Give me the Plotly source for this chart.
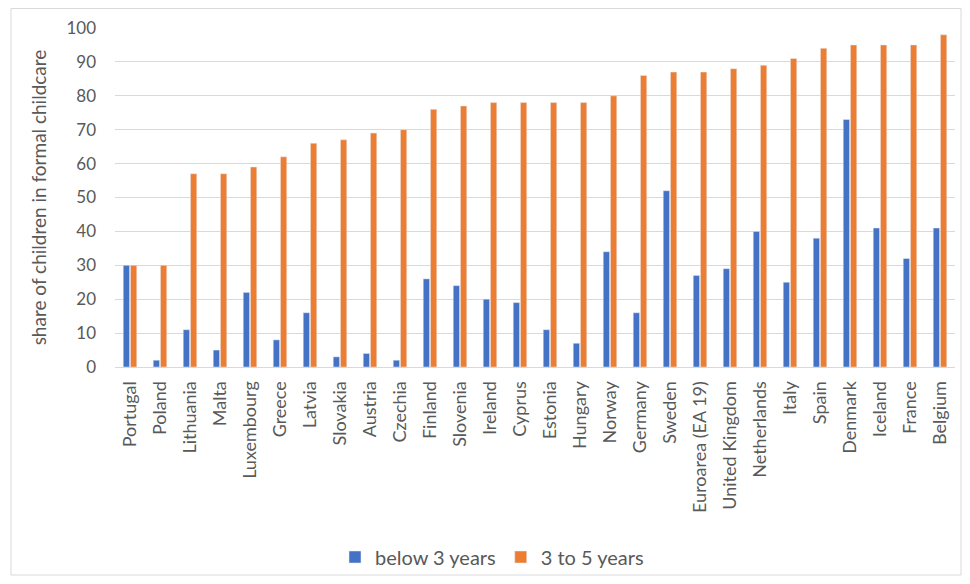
import plotly.graph_objects as go

countries = ["Portugal", "Poland", "Lithuania", "Malta", "Luxembourg", "Greece", "Latvia",
             "Slovakia", "Austria", "Czechia", "Finland", "Slovenia", "Ireland", "Cyprus",
             "Estonia", "Hungary", "Norway", "Germany", "Sweden", "Euroarea (EA 19)",
             "United Kingdom", "Netherlands", "Italy", "Spain", "Denmark", "Iceland",
             "France", "Belgium"]
below_3 = [30, 2, 11, 5, 22, 8, 16, 3, 4, 2, 26, 24, 20, 19, 11, 7, 34, 16, 52, 27,
           29, 40, 25, 38, 73, 41, 32, 41]
age_3_to_5 = [30, 30, 57, 57, 59, 62, 66, 67, 69, 70, 76, 77, 78, 78, 78, 78, 80, 86, 87, 87,
              88, 89, 91, 94, 95, 95, 95, 98]
y_ticks = [0, 10, 20, 30, 40, 50, 60, 70, 80, 90, 100]

FONT = "Lato, Calibri, 'Liberation Sans', sans-serif"
TXT = "#595959"

fig = go.Figure()
fig.add_trace(go.Bar(x=countries, y=below_3, name="below 3 years", marker_color="#4472C4"))
fig.add_trace(go.Bar(x=countries, y=age_3_to_5, name="3 to 5 years", marker_color="#ED7D31"))

# page has 8px body margin; figure is placed at (8, 8)
OFF = 8
W, H = 954, 568
L, T = 115 - OFF, 28 - OFF
R = (OFF + W) - 955
B = (OFF + H) - 367
pw, ph = W - L - R, H - T - B

fig.add_shape(type="rect", xref="paper", yref="paper",
              x0=(11 - OFF - L) / pw, x1=(W - 1 - L) / pw,
              y0=-(H - 1 - T - ph) / ph, y1=1 + (T - 0.5) / ph,
              line=dict(color="#d9d9d9", width=1), layer="below")

legend_y = -((557 - OFF) - (T + ph)) / ph
legend_x = ((492 - OFF) - L) / pw

fig.update_layout(
    width=W, height=H,
    margin=dict(l=L, r=R, t=T, b=B, autoexpand=False),
    paper_bgcolor="white", plot_bgcolor="white",
    barmode="group", bargap=0.52, bargroupgap=0.12,
    font=dict(family=FONT, color=TXT),
    legend=dict(orientation="h", x=legend_x, xanchor="center", y=legend_y, yanchor="middle",
                font=dict(size=20, color=TXT), traceorder="normal", itemwidth=30,
                bgcolor="rgba(0,0,0,0)"),
    showlegend=True,
)
fig.update_yaxes(range=[0, 100], tickvals=y_ticks, showgrid=True, gridcolor="#d9d9d9",
                 zeroline=False, tickfont=dict(size=17, color=TXT), ticklabelstandoff=18,
                 title=dict(text="share of children in formal childcare",
                            font=dict(size=19, color=TXT), standoff=14))
fig.update_xaxes(tickangle=-90, tickfont=dict(size=18, color=TXT), showline=True,
                 linecolor="#d9d9d9", ticks="", ticklabelstandoff=6)

fig.write_html("out.html")
